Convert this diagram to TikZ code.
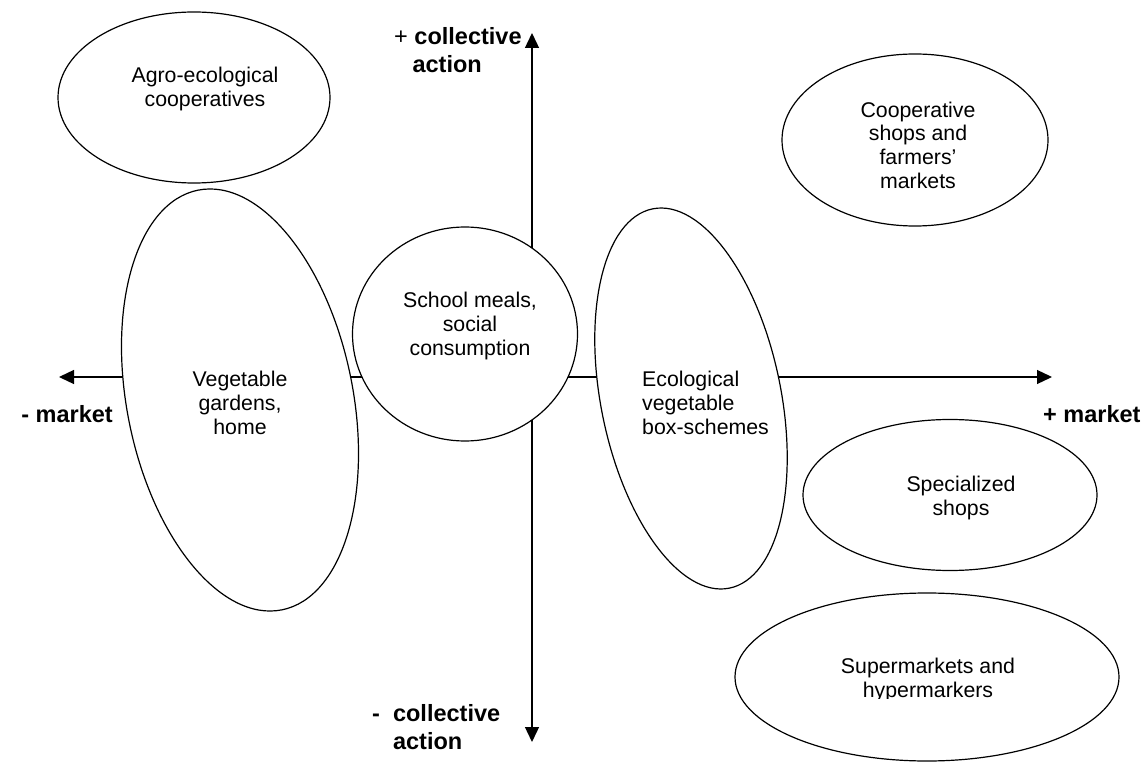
\documentclass[tikz,border=0pt]{standalone}
\usepackage{fontspec}
\setmainfont{Liberation Sans}
\usetikzlibrary{shapes.geometric,arrows.meta}
\begin{document}
\begin{tikzpicture}[x=1pt,y=-1pt,
  oval/.style={draw, ellipse, fill=white, line width=1.2pt, inner sep=0pt, outer sep=0pt},
  txt/.style={align=center, inner sep=0pt, font=\fontsize{21.3}{23.7}\selectfont},
  axislbl/.style={align=left, inner sep=0pt, font=\fontsize{23.5}{27.5}\selectfont\bfseries},
  axis/.style={line width=1.3pt, {Triangle[length=15pt,width=14pt]}-{Triangle[length=15pt,width=14pt]}}]
\useasboundingbox (0,0) rectangle (1144,762);
% axes
\coordinate (L) at (59,377);
\coordinate (R) at (1052,377);
\coordinate (T) at (532,33);
\coordinate (B) at (532,742);
\draw[axis] (L) -- (R);
\draw[axis] (B) -- (T);
% ellipses
\node[oval, minimum width=272pt, minimum height=171pt] (agro) at (194,97.5) {};
\node[oval, minimum width=266pt, minimum height=172pt] (coop) at (915,140) {};
\node[oval, minimum width=226pt, minimum height=428pt, rotate=11.3] (veg) at (240,400) {};
\node[oval, minimum width=225pt, minimum height=214pt] (school) at (465,334) {};
\node[oval, minimum width=180pt, minimum height=387pt, rotate=11.45] (box) at (691,398.5) {};
\node[oval, minimum width=294pt, minimum height=151pt] (spec) at (950,495) {};
\node[oval, minimum width=384pt, minimum height=168pt] (super) at (927,677) {};
% texts
\node[txt] (agrot) at (205,89) {Agro-ecological\\cooperatives};
\node[txt] (coopt) at (918,145) {Cooperative\\shops and\\farmers’\\markets};
\node[txt] (vegt) at (240,403) {Vegetable\\gardens,\\home};
\node[txt] (schoolt) at (470,326) {School meals,\\social\\consumption};
\node[txt, align=left, anchor=west] (boxt) at (642,403) {Ecological\\vegetable\\box-schemes};
\node[txt] (spect) at (961,498) {Specialized\\shops};
\begin{scope}
\clip (820,640) rectangle (1040,698);
\node[txt] (supert) at (928,680) {Supermarkets and\\hypermarkers};
\end{scope}
% axis labels
\node[axislbl, anchor=west] (topl) at (394,50) {{\mdseries +} collective\\\hspace{18.4pt}action};
\node[axislbl, anchor=west] (botl) at (372,727) {-\ \ collective\\\hspace{20.9pt}action};
\node[axislbl, anchor=east] (leftl) at (113,414) {- market};
\node[axislbl, anchor=west] (rightl) at (1043,414) {+ market};
\end{tikzpicture}
\end{document}
